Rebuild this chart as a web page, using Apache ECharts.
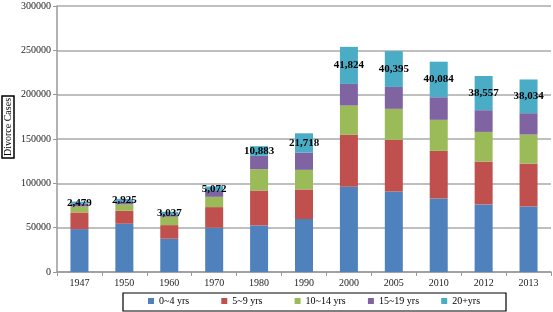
<!DOCTYPE html>
<html>
<head>
<meta charset="utf-8">
<script src="https://cdn.jsdelivr.net/npm/echarts@6/dist/echarts.min.js"></script>
<style>
  html, body { margin: 0; padding: 0; background: #fff; }
  #chart { width: 553px; height: 312px; }
</style>
</head>
<body>
<div id="chart"></div>
<script>
const years = ['1947', '1950', '1960', '1970', '1980', '1990', '2000', '2005', '2010', '2012', '2013'];
const yrs0to4 = [48400, 54400, 37500, 49900, 52500, 59700, 96100, 90800, 82900, 76200, 73900];
const yrs5to9 = [18700, 14700, 15400, 23300, 39400, 33400, 58600, 58200, 53700, 48400, 48400];
const yrs10to14 = [6800, 7100, 9400, 11600, 24100, 22100, 33000, 35000, 35000, 33400, 32700];
const yrs15to19 = [3000, 3300, 2600, 6550, 15000, 19500, 24400, 24700, 25500, 24500, 24100];
const yrs20plus = [2479, 2925, 3037, 5072, 10883, 21718, 41824, 40395, 40084, 38557, 38034];
const seriesNames = ['0~4 yrs', '5~9 yrs', '10~14 yrs', '15~19 yrs', '20+yrs'];

const serif = '"Liberation Serif", "DejaVu Serif", serif';
const chart = echarts.init(document.getElementById('chart'));

const mkSeries = (name, data, color, label) => ({
  name: name,
  type: 'bar',
  stack: 'total',
  data: data,
  barWidth: 18,
  itemStyle: { color: color },
  label: label ? {
    show: true,
    position: 'inside',
    color: '#000',
    fontFamily: serif,
    fontWeight: 'bold',
    fontSize: 11,
    formatter: (p) => p.value.toLocaleString('en-US'),
  } : { show: false },
});

// one legend per item so the items sit in equal cells like the original
const legends = seriesNames.map((n, i) => ({
  top: 296,
  left: 148 + i * 73.3,
  padding: 0,
  itemWidth: 6,
  itemHeight: 6,
  itemGap: 0,
  icon: 'rect',
  textStyle: { fontFamily: serif, fontSize: 10, color: '#000' },
  data: [n],
}));

chart.setOption({
  animation: false,
  grid: { left: 57, right: 2, top: 6, bottom: 40, outerBoundsMode: 'none' },
  legend: legends,
  graphic: [
    {
      type: 'rect',
      shape: { x: 123, y: 293, width: 383, height: 18 },
      style: { fill: 'none', stroke: '#000', lineWidth: 1.2 },
    },
    {
      // boxed axis title, sits a bit above the axis middle in the original
      type: 'text',
      x: 8,
      y: 127,
      rotation: Math.PI / 2,
      style: {
        text: 'Divorce Cases',
        font: '10px ' + serif,
        fill: '#000',
        align: 'center',
        verticalAlign: 'middle',
        borderColor: '#000',
        borderWidth: 1.5,
        padding: [1, 2, 1, 2],
      },
    },
  ],
  xAxis: {
    type: 'category',
    data: years,
    axisLine: { lineStyle: { color: '#999', width: 1.5 } },
    axisTick: { show: true, length: 4, lineStyle: { color: '#999' } },
    axisLabel: { fontFamily: serif, fontSize: 10, color: '#222', margin: 6 },
  },
  yAxis: {
    type: 'value',
    min: 0,
    max: 300000,
    interval: 50000,
    axisLine: { show: true, lineStyle: { color: '#999', width: 1.5 } },
    axisTick: { show: true, length: 4, lineStyle: { color: '#999' } },
    axisLabel: { fontFamily: serif, fontSize: 10, color: '#222', margin: 6, formatter: (v) => String(v) },
    splitLine: { lineStyle: { color: '#aaa', width: 1.5 } },
  },
  series: [
    mkSeries(seriesNames[0], yrs0to4, '#4F81BD'),
    mkSeries(seriesNames[1], yrs5to9, '#C0504D'),
    mkSeries(seriesNames[2], yrs10to14, '#9BBB59'),
    mkSeries(seriesNames[3], yrs15to19, '#8064A2'),
    mkSeries(seriesNames[4], yrs20plus, '#4BACC6', true),
  ],
});
</script>
</body>
</html>
